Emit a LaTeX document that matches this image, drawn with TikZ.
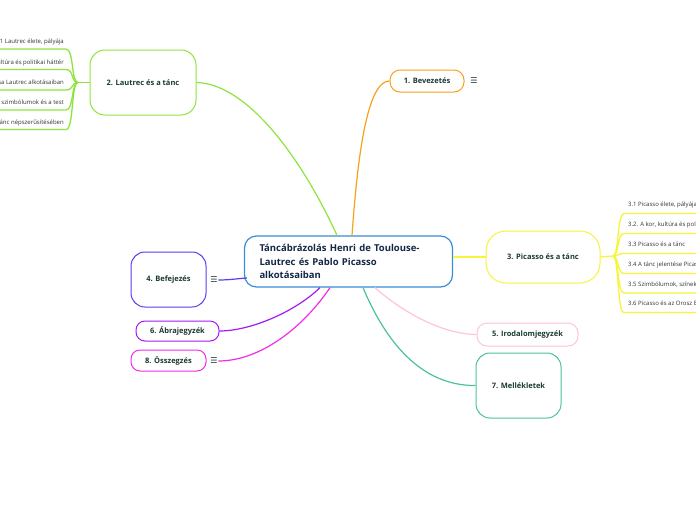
\documentclass[tikz,border=0pt]{standalone}
\usepackage{fontspec}
\setmainfont{Open Sans}
\newfontfamily\symfont{DejaVu Sans}
\definecolor{cBlue}{HTML}{3A8DD6}
\definecolor{cOrange}{HTML}{F7A21B}
\definecolor{cLime}{HTML}{8EE53F}
\definecolor{cYellow}{HTML}{F5F53B}
\definecolor{cIndigo}{HTML}{5B3CF2}
\definecolor{cPurple}{HTML}{A21CF2}
\definecolor{cMagenta}{HTML}{EE2FEA}
\definecolor{cPink}{HTML}{FFC4DA}
\definecolor{cTeal}{HTML}{4CC29C}
\definecolor{cText}{HTML}{1B3A34}
\definecolor{cNavy}{HTML}{142845}
\definecolor{cSub}{HTML}{333333}
\tikzset{
  topic/.style={draw, fill=white, line width=1pt, inner sep=0pt,
    font=\bfseries\fontsize{7.5}{9}\selectfont, text=cText},
  conn/.style={line width=1.2pt},
  icon/.style={font=\symfont\fontsize{8}{8}\selectfont, text=cText, inner sep=0.5pt},
  subtext/.style={font=\fontsize{6}{7}\selectfont, text=cSub, inner sep=0pt},
  subline/.style={line width=1.3pt}
}
\begin{document}
\begin{tikzpicture}[x=1pt,y=-1pt]
\useasboundingbox (0,0) rectangle (696,520);
\clip (0,0) rectangle (696,520);
\fill[white] (0,0) rectangle (696,520);

% central
\node[draw=cBlue, line width=1.2pt, rounded corners=12pt, fill=white,
  minimum width=203pt, minimum height=51pt, inner xsep=15pt, inner ysep=0pt,
  text width=178pt, align=left, text=cNavy,
  font=\bfseries\fontsize{9.5}{13.5}\selectfont] (c) at (348.5,261.5)
  {Táncábrázolás Henri de Toulouse-\\Lautrec és Pablo Picasso\\alkotásaiban};

% topics
\node[topic, draw=cOrange, rounded corners=10pt, minimum width=74pt, minimum height=22pt] (n1) at (427,81) {1. Bevezetés};
\node[icon] (i1) at (474,81) {☰};
\node[topic, draw=cLime, rounded corners=15pt, minimum width=106pt, minimum height=65pt] (n2) at (143,82.5) {2. Lautrec és a tánc};
\node[topic, draw=cYellow, rounded corners=20pt, minimum width=114pt, minimum height=52pt] (n3) at (543,257) {3. Picasso és a tánc};
\node[topic, draw=cIndigo, rounded corners=14pt, minimum width=75pt, minimum height=55pt] (n4) at (168.5,279.5) {4. Befejezés};
\node[icon] (i4) at (214,280) {☰};
\node[topic, draw=cPink, rounded corners=10pt, minimum width=101pt, minimum height=23pt] (n5) at (527.5,334.5) {5. Irodalomjegyzék};
\node[topic, draw=cPurple, rounded corners=9pt, minimum width=83pt, minimum height=20pt] (n6) at (177.5,331) {6. Ábrajegyzék};
\node[topic, draw=cTeal, rounded corners=14pt, minimum width=85pt, minimum height=65pt] (n7) at (518.5,385.5) {7. Mellékletek};
\node[topic, draw=cMagenta, rounded corners=9pt, minimum width=75pt, minimum height=21pt] (n8) at (168.5,360.5) {8. Összegzés};
\node[icon] (i8) at (214,361) {☰};

% connectors
\draw[conn, cLime] ([xshift=-11.5pt]c.north) .. controls (305,165) and (250,84) .. (n2.east);
\draw[conn, cOrange] ([xshift=3.5pt]c.north) .. controls (358,150) and (368,81) .. (n1.west);
\draw[conn, cYellow] (c.east |- n3.west) -- (n3.west);
\draw[conn, cIndigo] ([xshift=3pt,yshift=2pt]c.west |- i4.east) .. controls (238,278.5) and (230,280) .. (i4.east);
\draw[conn, cPurple] ([xshift=-28.5pt]c.south) .. controls (295,312) and (250,331) .. (n6.east);
\draw[conn, cMagenta] ([xshift=-18.5pt]c.south) .. controls (305,325) and (262,361) .. (i8.east);
\draw[conn, cPink] ([xshift=26.5pt]c.south) .. controls (400,310) and (440,334) .. (n5.west);
\draw[conn, cTeal] ([xshift=14.5pt]c.south) .. controls (385,340) and (420,386) .. (n7.west);

% sub-topics of 2
\coordinate (j2) at (78,82.5);
\draw[subline, cLime] (n2.west) -- (j2);
\foreach \y/\t [count=\k] in {
  49/{2.1 Lautrec élete, pályája},
  69.5/{2.2 A kor, kultúra és politikai háttér},
  90/{2.3 A tánc ábrázolása Lautrec alkotásaiban},
  110/{2.4 Színek, szimbólumok és a test},
  129.5/{2.5 Lautrec szerepe a tánc népszerűsítésében}} {
  \coordinate (l\k) at (66,\y);
  \draw[subline, cLime] (j2) .. controls (71,82.5) and (74,\y) .. (l\k) -- (-5,\y);
  \node[subtext, anchor=base east] (s2\k) at (64,\y-5.5) {\t};
}

% sub-topics of 3
\coordinate (j3) at (613,256);
\draw[subline, cYellow] (n3.east) -- (j3);
\foreach \y/\t [count=\k] in {
  213.5/{3.1 Picasso élete, pályája},
  233.5/{3.2. A kor, kultúra és politikai háttér},
  253.5/{3.3 Picasso és a tánc},
  273.5/{3.4 A tánc jelentése Picasso alkotásaiban},
  293/{3.5 Szimbólumok, színek és a test},
  312.5/{3.6 Picasso és az Orosz Balett}} {
  \coordinate (r\k) at (624,\y);
  \draw[subline, cYellow] (j3) .. controls (619,256) and (617,\y) .. (r\k) -- (705,\y);
  \node[subtext, anchor=base west] (s3\k) at (628,\y-7) {\t};
}
\end{tikzpicture}
\end{document}
